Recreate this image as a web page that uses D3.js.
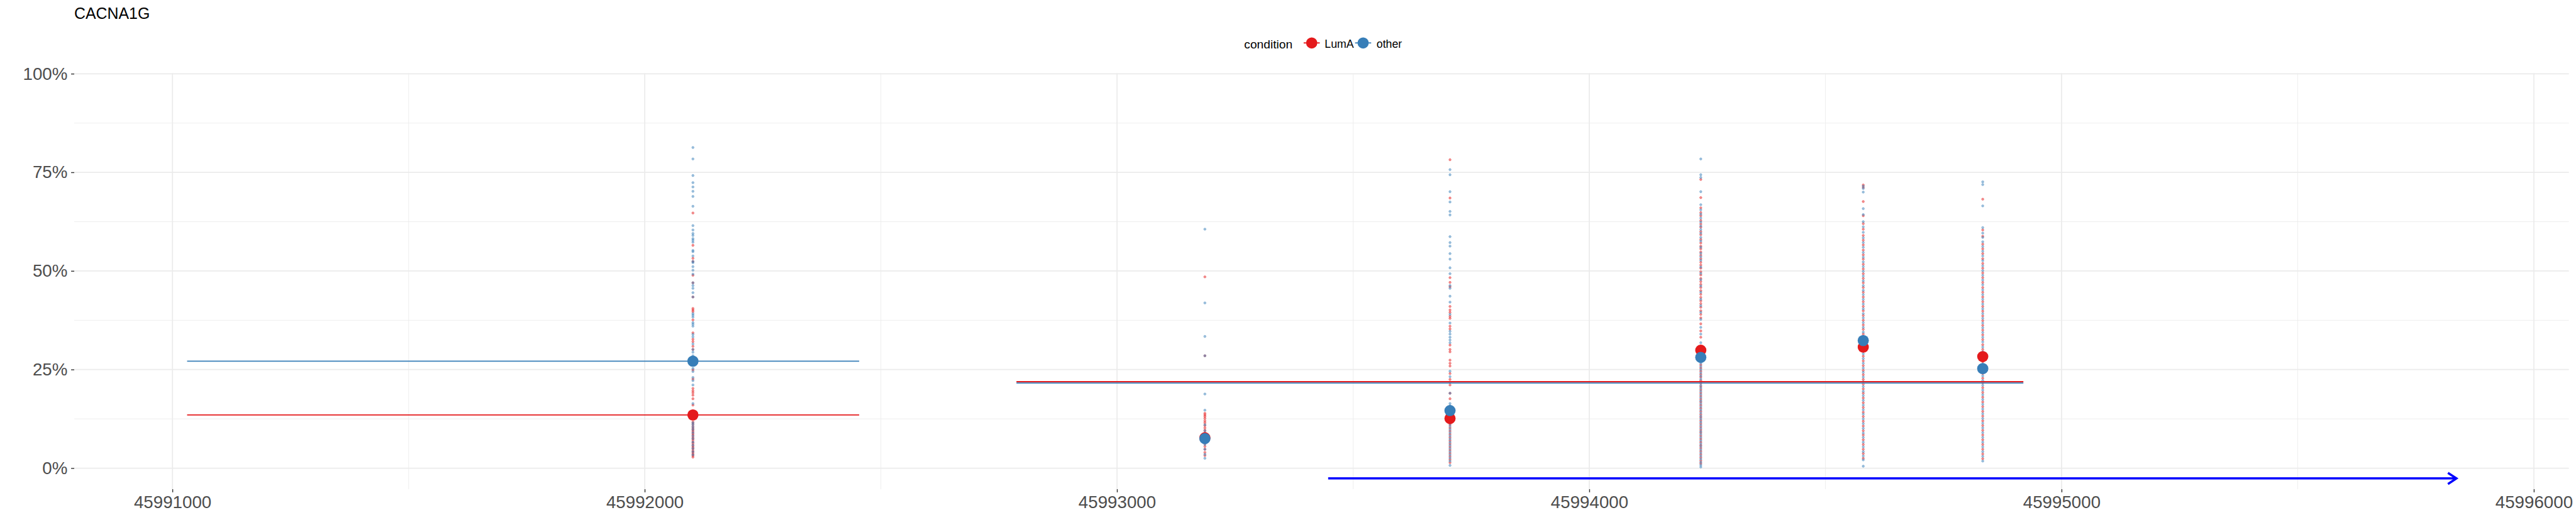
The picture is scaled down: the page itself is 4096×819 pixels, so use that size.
<!DOCTYPE html>
<html>
<head>
<meta charset="utf-8">
<script src="https://cdn.jsdelivr.net/npm/d3@7"></script>
<style>
html,body{margin:0;padding:0;background:#fff;}
svg{display:block;}
text{font-family:"Liberation Sans",Arial,sans-serif;}
</style>
</head>
<body>
<svg id="chart" width="4096" height="819"></svg>
<script>
// ---------------- data ----------------
const title = "CACNA1G";
const conditions = ["LumA", "other"];
const colors = ["#E41A1C", "#377EB8"];
const positions = [45992102, 45993186, 45993705, 45994236, 45994580, 45994833];
const meanLumA  = [0.135, 0.077, 0.126, 0.299, 0.307, 0.283];
const meanOther = [0.2713, 0.075, 0.146, 0.281, 0.3235, 0.2525];
const segStart = [45991031, 45992787];
const segEnd   = [45992454, 45994919];
const segLumA  = [0.135, 0.2192];
const segOther = [0.2713, 0.2158];
const geneStart = 45993447;
const geneEnd   = 45995836;
const geneY = -0.026;
const xTicks = [45991000, 45992000, 45993000, 45994000, 45995000, 45996000];
const xMinor = [45991500, 45992500, 45993500, 45994500, 45995500];
const yTicks = [0, 0.25, 0.5, 0.75, 1];
const yMinor = [0.125, 0.375, 0.625, 0.875];

const ptsLumA = [
  [0.647,0.565,0.532,0.524,0.489,0.470,0.434,0.405,0.401,0.397,0.376,0.343,0.327,0.321,0.309,0.301,0.249,0.226,0.202,0.196,0.191,0.185,0.176,0.160,0.117,0.112,0.106,0.101,0.097,0.093,0.088,0.084,0.079,0.075,0.071,0.066,0.062,0.057,0.053,0.049,0.044,0.040,0.036,0.032,0.028],
  [0.485,0.285,0.139,0.135,0.131,0.126,0.120,0.115,0.108,0.102,0.096,0.090,0.082,0.075,0.068,0.062,0.055,0.048,0.040,0.032],
  [0.782,0.685,0.483,0.471,0.460,0.410,0.401,0.395,0.385,0.380,0.360,0.353,0.312,0.301,0.295,0.274,0.266,0.259,0.240,0.225,0.211,0.190,0.176,0.117,0.110,0.102,0.094,0.086,0.078,0.070,0.062,0.054,0.046,0.038,0.030,0.022,0.014],
  [0.732,0.686,0.660,0.648,0.640,0.628,0.619,0.611,0.600,0.592,0.580,0.571,0.563,0.556,0.548,0.540,0.531,0.522,0.515,0.507,0.498,0.490,0.481,0.473,0.466,0.458,0.450,0.441,0.433,0.424,0.417,0.408,0.399,0.390,0.381,0.366,0.348,0.332,0.270,0.262,0.254,0.246,0.238,0.231,0.222,0.215,0.207,0.199,0.191,0.183,0.175,0.168,0.160,0.152,0.144,0.136,0.129,0.121,0.113,0.105,0.097,0.090,0.082,0.074,0.066,0.058,0.051,0.043,0.035,0.027,0.019,0.012],
  [0.718,0.712,0.676,0.640,0.620,0.606,0.590,0.578,0.566,0.553,0.541,0.530,0.517,0.505,0.493,0.481,0.470,0.458,0.446,0.434,0.422,0.410,0.399,0.387,0.375,0.363,0.352,0.340,0.328,0.296,0.284,0.272,0.260,0.248,0.237,0.225,0.213,0.201,0.190,0.178,0.166,0.154,0.142,0.131,0.119,0.107,0.095,0.084,0.072,0.060,0.048,0.037,0.025],
  [0.682,0.604,0.588,0.568,0.556,0.544,0.531,0.519,0.507,0.495,0.483,0.471,0.458,0.446,0.434,0.422,0.410,0.398,0.386,0.374,0.362,0.350,0.338,0.326,0.313,0.301,0.270,0.258,0.240,0.228,0.216,0.204,0.192,0.180,0.168,0.156,0.144,0.132,0.120,0.108,0.096,0.084,0.072,0.060,0.048,0.036,0.024]
];
const ptsOther = [
  [0.813,0.784,0.742,0.724,0.713,0.702,0.689,0.664,0.615,0.604,0.595,0.590,0.582,0.578,0.573,0.552,0.549,0.538,0.524,0.521,0.511,0.502,0.492,0.470,0.463,0.456,0.445,0.434,0.392,0.388,0.383,0.369,0.365,0.360,0.339,0.333,0.315,0.301,0.294,0.285,0.253,0.245,0.230,0.222,0.211,0.164,0.115,0.110,0.104,0.098,0.090,0.082,0.075,0.066,0.058,0.050,0.042,0.034],
  [0.606,0.419,0.334,0.285,0.188,0.147,0.110,0.095,0.085,0.072,0.060,0.048,0.035,0.025],
  [0.757,0.744,0.701,0.675,0.651,0.642,0.587,0.572,0.563,0.544,0.530,0.508,0.493,0.463,0.456,0.436,0.421,0.390,0.368,0.347,0.340,0.332,0.325,0.318,0.246,0.232,0.217,0.190,0.164,0.158,0.113,0.106,0.098,0.090,0.082,0.074,0.066,0.058,0.050,0.042,0.034,0.026,0.018,0.007],
  [0.784,0.744,0.737,0.701,0.668,0.655,0.644,0.634,0.624,0.614,0.605,0.596,0.585,0.576,0.560,0.545,0.536,0.527,0.510,0.494,0.478,0.462,0.446,0.428,0.412,0.395,0.377,0.357,0.340,0.318,0.276,0.266,0.258,0.250,0.242,0.234,0.226,0.218,0.210,0.203,0.195,0.187,0.179,0.171,0.164,0.156,0.148,0.140,0.132,0.125,0.117,0.109,0.101,0.093,0.086,0.078,0.070,0.062,0.055,0.047,0.039,0.031,0.023,0.015,0.008,0.003],
  [0.715,0.709,0.700,0.658,0.643,0.625,0.612,0.598,0.584,0.572,0.560,0.547,0.535,0.523,0.511,0.499,0.487,0.475,0.463,0.451,0.440,0.428,0.416,0.404,0.392,0.381,0.369,0.357,0.345,0.334,0.302,0.290,0.278,0.266,0.254,0.243,0.231,0.219,0.207,0.195,0.184,0.172,0.160,0.148,0.137,0.125,0.113,0.101,0.089,0.078,0.066,0.054,0.042,0.031,0.021,0.005],
  [0.726,0.719,0.665,0.610,0.596,0.585,0.574,0.562,0.550,0.538,0.526,0.513,0.501,0.489,0.477,0.465,0.452,0.440,0.428,0.416,0.404,0.392,0.380,0.368,0.356,0.344,0.332,0.320,0.307,0.295,0.264,0.246,0.234,0.222,0.210,0.198,0.186,0.174,0.162,0.150,0.138,0.126,0.114,0.102,0.090,0.078,0.066,0.054,0.042,0.030,0.018]
];

// ---------------- layout (reference px, scaled) ----------------
const S = 4096 / 5760;
const svg = d3.select("#chart");
const g = svg.append("g").attr("transform", `scale(${S})`);

const panel = {left: 166, right: 5744, top: 164, bottom: 1094};
const x = d3.scaleLinear().domain([45990792, 45996074]).range([panel.left, panel.right]);
const y = d3.scaleLinear().domain([-0.0533, 1.0011]).range([panel.bottom, panel.top]);

const grid = "#EBEBEB";
// minor grid
g.append("g").selectAll("line").data(yMinor).join("line")
  .attr("x1", panel.left).attr("x2", panel.right)
  .attr("y1", d => y(d)).attr("y2", d => y(d))
  .attr("stroke", grid).attr("stroke-width", 1.2);
g.append("g").selectAll("line").data(xMinor).join("line")
  .attr("y1", panel.top).attr("y2", panel.bottom)
  .attr("x1", d => x(d)).attr("x2", d => x(d))
  .attr("stroke", grid).attr("stroke-width", 1.2);
// major grid
g.append("g").selectAll("line").data(yTicks).join("line")
  .attr("x1", panel.left).attr("x2", panel.right)
  .attr("y1", d => y(d)).attr("y2", d => y(d))
  .attr("stroke", grid).attr("stroke-width", 2.4);
g.append("g").selectAll("line").data(xTicks).join("line")
  .attr("y1", panel.top).attr("y2", panel.bottom)
  .attr("x1", d => x(d)).attr("x2", d => x(d))
  .attr("stroke", grid).attr("stroke-width", 2.4);

// axes
const yAxis = g.append("g").attr("transform", `translate(${panel.left},0)`)
  .call(d3.axisLeft(y).tickValues(yTicks).tickFormat(d3.format(".0%")).tickSize(7).tickPadding(8));
const xAxis = g.append("g").attr("transform", `translate(0,${panel.bottom})`)
  .call(d3.axisBottom(x).tickValues(xTicks).tickFormat(d3.format("d")).tickSize(7).tickPadding(7));
[yAxis, xAxis].forEach(a => {
  a.select(".domain").remove();
  a.selectAll(".tick line").attr("stroke", "#333333").attr("stroke-width", 2);
  a.selectAll(".tick text").attr("fill", "#4D4D4D").style("font-size", "39px")
    .style("font-family", '"Liberation Sans", Arial, sans-serif');
});

// small points
const small = g.append("g");
[ptsLumA, ptsOther].forEach((pts, ci) => {
  const flat = [];
  pts.forEach((arr, i) => arr.forEach(v => flat.push({p: positions[i], v})));
  small.append("g").selectAll("circle").data(flat).join("circle")
    .attr("cx", d => x(d.p)).attr("cy", d => y(d.v)).attr("r", 2.5)
    .attr("fill", colors[ci]).attr("fill-opacity", 0.45)
    .attr("stroke", colors[ci]).attr("stroke-opacity", 0.7).attr("stroke-width", 0.9);
});

// segments (blue first, red on top)
[[segOther, 1], [segLumA, 0]].forEach(([vals, ci]) => {
  g.append("g").selectAll("line").data(vals.map((v, i) => ({v, s: segStart[i], e: segEnd[i]}))).join("line")
    .attr("x1", d => x(d.s)).attr("x2", d => x(d.e))
    .attr("y1", d => y(d.v)).attr("y2", d => y(d.v))
    .attr("stroke", colors[ci]).attr("stroke-width", 2.6);
});

// mean points
[meanLumA, meanOther].forEach((vals, ci) => {
  g.append("g").selectAll("circle").data(vals.map((v, i) => ({p: positions[i], v}))).join("circle")
    .attr("cx", d => x(d.p)).attr("cy", d => y(d.v)).attr("r", 12.5)
    .attr("fill", colors[ci]);
});

// gene arrow
const gy = y(geneY), gx1 = x(geneStart), gx2 = x(geneEnd);
g.append("line").attr("x1", gx1).attr("x2", gx2).attr("y1", gy).attr("y2", gy)
  .attr("stroke", "#0000FF").attr("stroke-width", 5);
g.append("path")
  .attr("d", `M${gx2 - 19},${gy - 12.5}L${gx2},${gy}L${gx2 - 19},${gy + 12.5}`)
  .attr("fill", "none").attr("stroke", "#0000FF").attr("stroke-width", 5)
  .attr("stroke-linejoin", "miter");

// title
g.append("text").attr("x", 166).attr("y", 42).text(title)
  .style("font-size", "35px").attr("fill", "#000");

// legend
const leg = g.append("g");
leg.append("text").attr("x", 2782).attr("y", 108).text("condition")
  .style("font-size", "27px").attr("fill", "#000");
const keyX = [2933, 3048];
const labX = [2962, 3078];
conditions.forEach((c, i) => {
  leg.append("line").attr("x1", keyX[i] - 18).attr("x2", keyX[i] + 18)
    .attr("y1", 96).attr("y2", 96).attr("stroke", colors[i]).attr("stroke-width", 2.6);
  leg.append("circle").attr("cx", keyX[i]).attr("cy", 96).attr("r", 12.5).attr("fill", colors[i]);
  leg.append("text").attr("x", labX[i]).attr("y", 106.5).text(c)
    .style("font-size", "25px").attr("fill", "#000");
});
</script>
</body>
</html>
